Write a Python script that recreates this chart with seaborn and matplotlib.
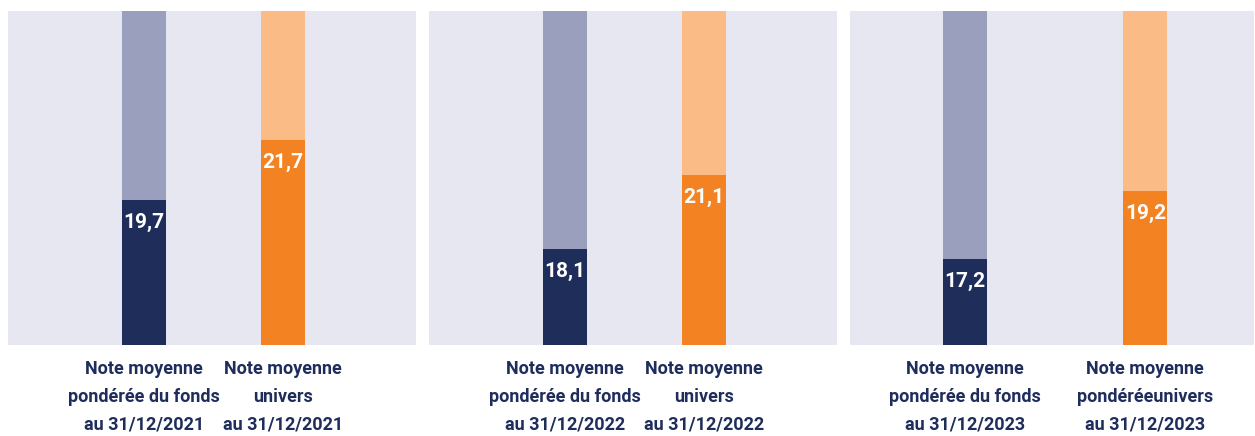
import matplotlib
matplotlib.use("Agg")
import matplotlib.pyplot as plt
import seaborn as sns
import pandas as pd

# ---- data ----
categories = ["fonds", "univers"]
values_2021 = [19.7, 21.7]
values_2022 = [18.1, 21.1]
values_2023 = [17.2, 19.2]
labels_2021 = ["Note moyenne\npondérée du fonds\nau 31/12/2021", "Note moyenne\nunivers\nau 31/12/2021"]
labels_2022 = ["Note moyenne\npondérée du fonds\nau 31/12/2022", "Note moyenne\nunivers\nau 31/12/2022"]
labels_2023 = ["Note moyenne\npondérée du fonds\nau 31/12/2023", "Note moyenne\npondéréeunivers\nau 31/12/2023"]
value_texts_2021 = ["19,7", "21,7"]
value_texts_2022 = ["18,1", "21,1"]
value_texts_2023 = ["17,2", "19,2"]

# ---- style ----
sns.set_theme(style="white")
FONT = ["Roboto", "DejaVu Sans"]
plt.rcParams["font.family"] = FONT

BG = "#E7E7F1"
NAVY = "#1F2D5A"
LAVENDER = "#9A9FBE"
ORANGE = "#F38223"
LIGHT_ORANGE = "#FBBB86"
TEXT = "#1E2D5B"

W, H = 1255, 436
fig = plt.figure(figsize=(W / 100, H / 100), dpi=100)
fig.patch.set_facecolor("white")

panels = [
    dict(vals=values_2021, labels=labels_2021, vt=value_texts_2021,
         rect=(8, 11, 408, 334), ylim=(14.867, 25.997), xlim=(-0.977, 1.955), bw=0.316),
    dict(vals=values_2022, labels=labels_2022, vt=value_texts_2022,
         rect=(429, 11, 408, 334), ylim=(14.208, 27.749), xlim=(-0.977, 1.955), bw=0.316),
    dict(vals=values_2023, labels=labels_2023, vt=value_texts_2023,
         rect=(850, 11, 404, 334), ylim=(14.671, 24.495), xlim=(-0.639, 1.603), bw=0.244),
]

for p in panels:
    x0, y0, w, h = p["rect"]
    ax = fig.add_axes([x0 / W, 1 - (y0 + h) / H, w / W, h / H])
    ax.set_facecolor(BG)
    ymin, ymax = p["ylim"]
    df = pd.DataFrame({"cat": categories, "val": p["vals"], "track": [ymax, ymax]})
    # background track
    sns.barplot(data=df, x="cat", y="track", hue="cat", order=categories,
                palette=[LAVENDER, LIGHT_ORANGE], width=p["bw"], saturation=1,
                linewidth=0, ax=ax, legend=False)
    # value bars
    sns.barplot(data=df, x="cat", y="val", hue="cat", order=categories,
                palette=[NAVY, ORANGE], width=p["bw"], saturation=1,
                linewidth=0, ax=ax, legend=False)
    ax.set_ylim(ymin, ymax)
    ax.set_xlim(*p["xlim"])
    for i, (v, t) in enumerate(zip(p["vals"], p["vt"])):
        ax.annotate(t, xy=(i, v), xytext=(0, -16.5), textcoords="offset points",
                    ha="center", va="center", color="white", fontsize=15,
                    fontweight="bold", family=FONT)
    ax.set_xticks(range(len(categories)))
    ax.set_xticklabels(p["labels"], fontsize=13, fontweight="bold", color=TEXT,
                       linespacing=1.7, family=FONT)
    ax.tick_params(axis="x", length=0, pad=11)
    ax.set_yticks([])
    ax.set_xlabel("")
    ax.set_ylabel("")
    for s in ax.spines.values():
        s.set_visible(False)

fig.savefig("out.png", dpi=100, facecolor="white")
